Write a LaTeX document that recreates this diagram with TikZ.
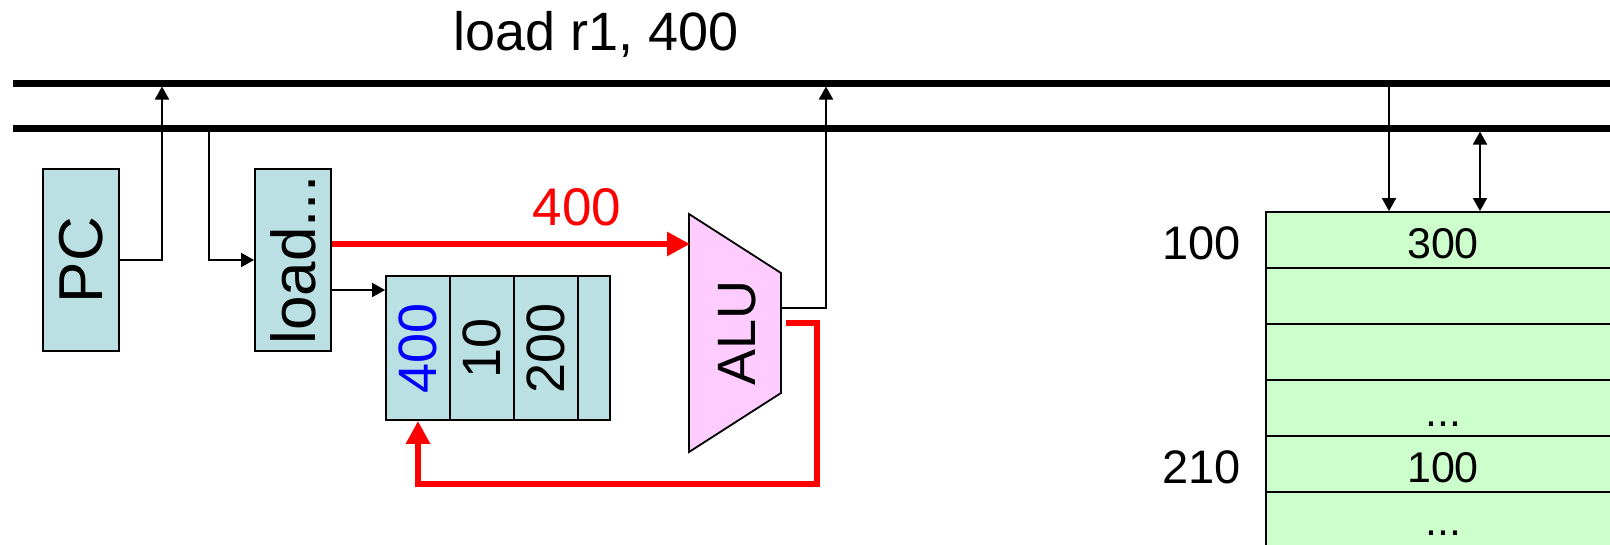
\documentclass[tikz,border=0pt]{standalone}
\usepackage{fontspec}
\setmainfont{Liberation Sans}
\usetikzlibrary{arrows.meta}
\definecolor{regblue}{RGB}{187,224,227}
\definecolor{alupink}{RGB}{255,204,255}
\definecolor{memgreen}{RGB}{204,255,204}
\begin{document}
\begin{tikzpicture}[x=1pt,y=-1pt,
  bus/.style={line width=7pt},
  wire/.style={line width=1.8pt, -{Triangle[length=13pt,width=14pt]}},
  dwire/.style={line width=1.8pt, {Triangle[length=13pt,width=14pt]}-{Triangle[length=13pt,width=14pt]}},
  redwire/.style={line width=6pt, red, line join=miter, -{Triangle[length=23pt,width=23pt]}},
  cpubox/.style={draw, line width=1.8pt, fill=regblue, inner sep=0pt},
  membox/.style={draw, line width=1.8pt, fill=memgreen, inner sep=0pt, minimum width=354pt, minimum height=56pt,
    font=\fontsize{43}{43}\selectfont, text height=37pt, text depth=0pt},
  big/.style={font=\fontsize{62}{62}\selectfont},
  mid/.style={font=\fontsize{54}{54}\selectfont},
  lbl/.style={font=\fontsize{47}{47}\selectfont}]
\clip (0,0) rectangle (1610,544);
\fill[white] (0,0) rectangle (1610,544);

% buses
\coordinate (b1L) at (13,83);  \coordinate (b1R) at (1620,83);
\coordinate (b2L) at (13,128); \coordinate (b2R) at (1620,128);
\draw[bus] (b1L) -- (b1R);
\draw[bus] (b2L) -- (b2R);
\node[font=\fontsize{54}{54}\selectfont] (title) at (596,34) {load r1, 400};

% PC
\node[cpubox, minimum width=76pt, minimum height=182pt] (pc) at (81,260) {};
\node[big, rotate=90] (pct) at (pc.center) {PC};
% instruction register
\node[cpubox, minimum width=76pt, minimum height=182pt] (load) at (293,260) {};
\node[big, rotate=90] (loadt) at (load.center) {load...};
% register file
\node[cpubox, minimum width=64pt, minimum height=144pt] (r1) at (418,348) {};
\node[cpubox, minimum width=64pt, minimum height=144pt] (r2) at (482,348) {};
\node[cpubox, minimum width=64pt, minimum height=144pt] (r3) at (546,348) {};
\node[cpubox, minimum width=32pt, minimum height=144pt] (r4) at (594,348) {};
\node[mid, rotate=90, text=blue] (r1t) at (r1.center) {400};
\node[mid, rotate=90] (r2t) at (r2.center) {10};
\node[mid, rotate=90] (r3t) at (r3.center) {200};

% ALU
\coordinate (aluA) at (689,214);
\coordinate (aluB) at (781,273);
\coordinate (aluC) at (781,393);
\coordinate (aluD) at (689,452);
\draw[line width=1.8pt, fill=alupink] (aluA) -- (aluB) -- (aluC) -- (aluD) -- cycle;
\node[mid, rotate=90] (alut) at (737,333) {ALU};
\coordinate (aluin) at (690,244);
\coordinate (aluout) at (781,308);
\coordinate (alured) at (786,323);

% memory
\node[membox] (m1) at (1443,240) {300};
\node[membox] (m2) at (1443,296) {};
\node[membox] (m3) at (1443,352) {};
\node[membox] (m4) at (1443,408) {...};
\node[membox] (m5) at (1443,464) {100};
\node[membox] (m6) at (1443,520) {};
\node[font=\fontsize{43}{43}\selectfont, anchor=base, inner sep=0pt] (m6t) at (1443,535) {...};
\node[lbl, anchor=east] (a100) at ([xshift=-21pt,yshift=-3pt]m1.west) {100};
\node[lbl, anchor=east] (a210) at ([xshift=-21pt,yshift=-3pt]m5.west) {210};

% connectors
\coordinate (pcup) at (162,86.5);
\draw[wire] (pc.east) -- (pcup |- pc.east) -- (pcup);
\coordinate (irdown) at (209,131);
\draw[wire] (irdown) -- (irdown |- load.west) -- (load.west);
\draw[wire] ([yshift=-30pt]load.east) -- ([yshift=-30pt]load.east -| r1.west);
\draw[redwire] ([yshift=16pt]load.east) -- (aluin);
\node[font=\fontsize{53}{53}\selectfont, text=red] (v400) at (577,207) {400};
\coordinate (aluup) at (826,86.5);
\draw[wire] (aluout) -- (aluup |- aluout) -- (aluup);
\coordinate (fbR) at (817,484);
\draw[redwire] (alured) -- (fbR |- alured) -- (fbR) -- (fbR -| r1.south) -- (r1.south);
\coordinate (memin) at (1389,83);
\draw[wire] (memin) -- (memin |- m1.north);
\coordinate (memio) at (1480,131.5);
\draw[dwire] (memio) -- (memio |- m1.north);
\end{tikzpicture}
\end{document}
